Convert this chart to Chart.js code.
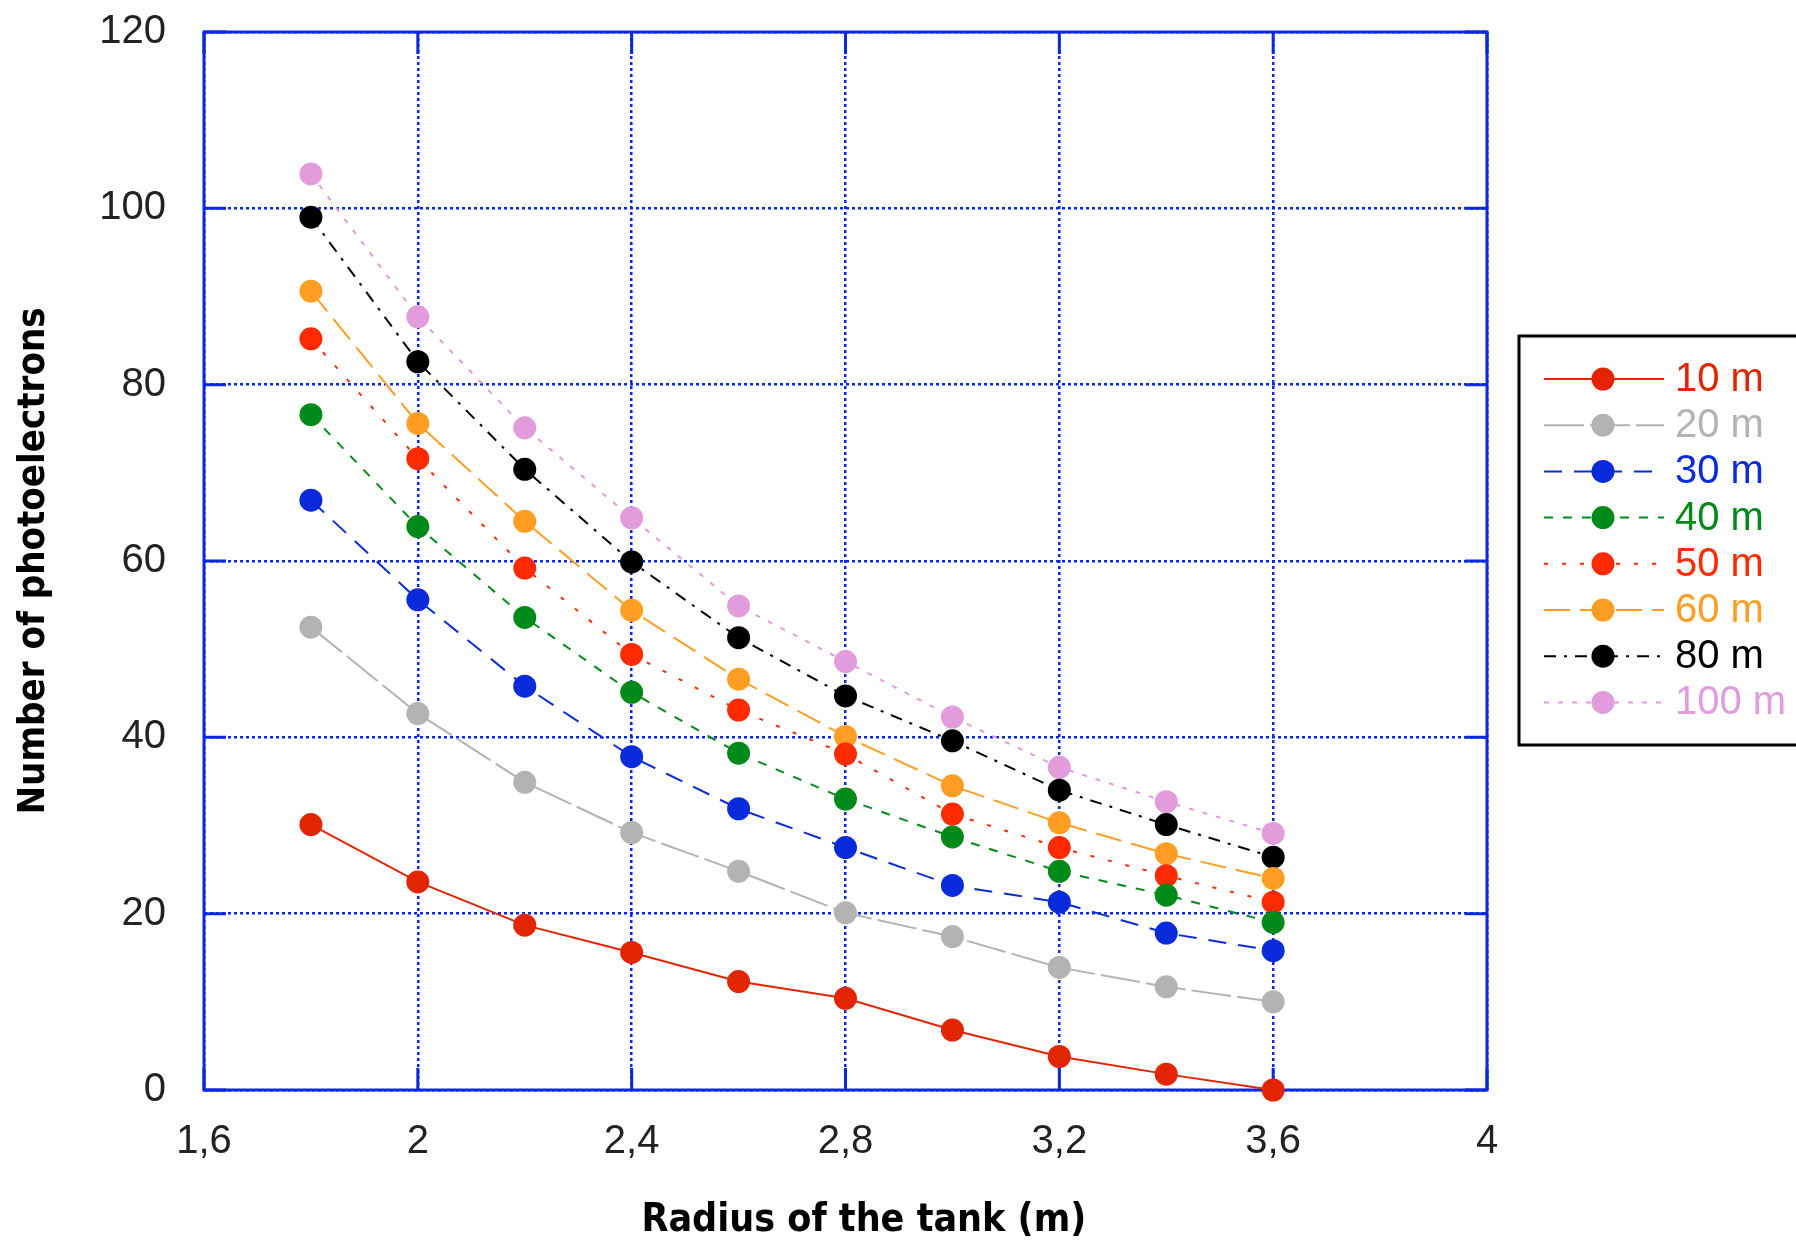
<!DOCTYPE html>
<html>
<head>
<meta charset="utf-8">
<script src="https://cdn.jsdelivr.net/npm/chart.js@4"></script>
<style>
  body { margin: 0; background: #fff; }
</style>
</head>
<body>
<canvas id="chart" width="1796" height="1244"></canvas>
<script>
// tank radius (m)
const radius = [1.8, 2.0, 2.2, 2.4, 2.6, 2.8, 3.0, 3.2, 3.4, 3.6];

// number of photoelectrons per distance
const pe10m  = [30.1, 23.6, 18.7, 15.6, 12.3, 10.4, 6.8, 3.8, 1.8, 0.0];
const pe20m  = [52.5, 42.7, 34.9, 29.2, 24.8, 20.1, 17.4, 13.9, 11.7, 10.0];
const pe30m  = [66.9, 55.6, 45.8, 37.8, 31.9, 27.5, 23.2, 21.3, 17.8, 15.8];
const pe40m  = [76.6, 63.9, 53.6, 45.1, 38.2, 33.0, 28.7, 24.8, 22.1, 19.0];
const pe50m  = [85.2, 71.6, 59.2, 49.4, 43.1, 38.1, 31.3, 27.5, 24.3, 21.3];
const pe60m  = [90.6, 75.6, 64.5, 54.4, 46.6, 40.1, 34.5, 30.3, 26.8, 24.0];
const pe80m  = [99.0, 82.6, 70.4, 59.9, 51.3, 44.7, 39.6, 34.0, 30.1, 26.4];
const pe100m = [103.9, 87.7, 75.1, 64.9, 54.9, 48.6, 42.3, 36.6, 32.7, 29.1];

const seriesNames = ['10 m', '20 m', '30 m', '40 m', '50 m', '60 m', '80 m', '100 m'];
const seriesData = [pe10m, pe20m, pe30m, pe40m, pe50m, pe60m, pe80m, pe100m];

const xTicks = [1.6, 2, 2.4, 2.8, 3.2, 3.6, 4];
const yTicks = [0, 20, 40, 60, 80, 100, 120];

// look of each series
const colors = ['#e22400', '#b3b3b3', '#0a2bdc', '#008a1a', '#ff2a00', '#ff9e22', '#000000', '#e29bdc'];
const dashes = [[], [40, 6], [18, 12], [9, 10], [4, 14], [26, 10], [12, 8, 3, 8], [5, 9]];

const GRID = '#0a28e0';

const datasets = seriesNames.map((name, i) => ({
  label: name,
  data: radius.map((r, j) => ({ x: r, y: seriesData[i][j] })),
  borderColor: colors[i],
  backgroundColor: colors[i],
  borderWidth: 2,
  borderDash: dashes[i],
  pointRadius: 11.5,
  pointHoverRadius: 11.5,
  pointBorderWidth: 0,
  tension: 0,
  clip: false,
}));

// frame + inward tick marks, like the old plot style
const framePlugin = {
  id: 'frame',
  beforeDatasetsDraw(chart) {
    const { ctx, chartArea: a, scales: { x, y } } = chart;
    ctx.save();
    ctx.strokeStyle = GRID;
    ctx.lineWidth = 3;
    ctx.setLineDash([]);
    const len = 22;
    ctx.beginPath();
    yTicks.forEach(v => {
      const py = y.getPixelForValue(v);
      ctx.moveTo(a.left, py); ctx.lineTo(a.left + len, py);
      ctx.moveTo(a.right, py); ctx.lineTo(a.right - len, py);
    });
    xTicks.forEach(v => {
      const px = x.getPixelForValue(v);
      ctx.moveTo(px, a.bottom); ctx.lineTo(px, a.bottom - len);
      ctx.moveTo(px, a.top); ctx.lineTo(px, a.top + len);
    });
    ctx.stroke();
    ctx.strokeRect(a.left, a.top, a.right - a.left, a.bottom - a.top);
    ctx.restore();
  }
};

// legend box with line + marker samples
const legendPlugin = {
  id: 'lineLegend',
  afterDraw(chart) {
    const ctx = chart.ctx;
    const box = { left: 1519, top: 336, bottom: 745 };
    ctx.save();
    ctx.strokeStyle = '#000';
    ctx.lineWidth = 3;
    ctx.strokeRect(box.left, box.top, 1796 - box.left + 10, box.bottom - box.top);
    chart.data.datasets.forEach((ds, i) => {
      const yy = 379 + i * 46.2;
      ctx.strokeStyle = ds.borderColor;
      ctx.lineWidth = 2;
      ctx.setLineDash(ds.borderDash);
      ctx.beginPath();
      ctx.moveTo(1544, yy);
      ctx.lineTo(1664, yy);
      ctx.stroke();
      ctx.setLineDash([]);
      ctx.fillStyle = ds.backgroundColor;
      ctx.beginPath();
      ctx.arc(1603, yy, 11.5, 0, Math.PI * 2);
      ctx.fill();
      ctx.font = '40px "Liberation Sans", Arial, sans-serif';
      ctx.textBaseline = 'middle';
      ctx.textAlign = 'left';
      ctx.fillText(ds.label, 1675, yy + 1);
    });
    ctx.restore();
  }
};

const fmt = v => String(+Number(v).toFixed(1)).replace('.', ',');

new Chart(document.getElementById('chart'), {
  type: 'line',
  data: { datasets },
  plugins: [framePlugin, legendPlugin],
  options: {
    responsive: false,
    animation: false,
    devicePixelRatio: 1,
    layout: { padding: { top: 32, right: 309, left: 0, bottom: 0 } },
    plugins: {
      legend: { display: false },
      tooltip: { enabled: false },
    },
    scales: {
      x: {
        type: 'linear',
        min: 1.6,
        max: 4,
        afterBuildTicks: s => { s.ticks = xTicks.map(v => ({ value: v })); },
        afterFit: s => { s.height = 154; s.paddingLeft = 0; s.paddingRight = 0; },
        grid: { color: GRID, lineWidth: 2.5, drawTicks: false },
        border: { display: false, dash: [3, 3] },
        ticks: {
          padding: 28,
          color: '#222',
          font: { family: '"Liberation Sans", Arial, sans-serif', size: 40 },
          callback: fmt,
          maxRotation: 0,
        },
        title: {
          display: true,
          text: '\u00a0\u00a0\u00a0Radius of the tank (m)',
          color: '#000',
          padding: { top: 0, bottom: 0 },
          font: { family: '"DejaVu Sans Condensed", "DejaVu Sans", sans-serif', weight: 'bold', size: 39 },
        },
      },
      y: {
        min: 0,
        max: 120,
        afterBuildTicks: s => { s.ticks = yTicks.map(v => ({ value: v })); },
        afterFit: s => { s.width = 204; s.paddingTop = 0; s.paddingBottom = 0; },
        grid: { color: GRID, lineWidth: 2.5, drawTicks: false },
        border: { display: false, dash: [3, 3] },
        ticks: {
          padding: 38,
          color: '#222',
          font: { family: '"Liberation Sans", Arial, sans-serif', size: 40 },
        },
        title: {
          display: true,
          text: 'Number of photoelectrons',
          color: '#000',
          padding: { top: 11, bottom: 0 },
          font: { family: '"DejaVu Sans Condensed", "DejaVu Sans", sans-serif', weight: 'bold', size: 38 },
        },
      },
    },
  },
});
</script>
</body>
</html>
